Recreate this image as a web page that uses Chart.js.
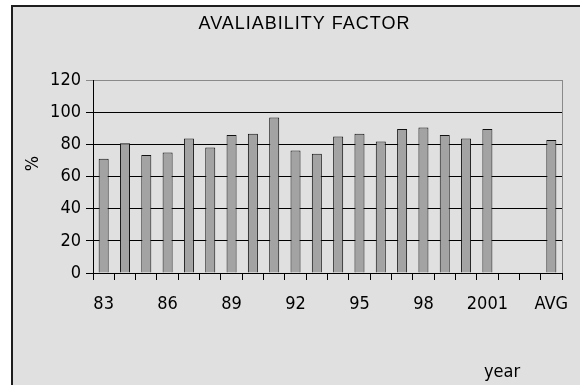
<!DOCTYPE html>
<html><head><meta charset="utf-8">
<script src="https://cdn.jsdelivr.net/npm/chart.js@4/dist/chart.umd.min.js"></script>
<style>
html,body{margin:0;padding:0;background:#fff;width:580px;height:385px;overflow:hidden}
#frame{position:absolute;left:11px;top:5px;width:567px;height:378px;border-left:2px solid #1e1e1e;border-top:2px solid #1e1e1e;background:#e0e0e0}
#frame canvas{display:block}
</style></head><body>
<div id="frame"><canvas id="c" width="567" height="378"></canvas></div>
<script>
// ---- data ----
const chartTitle = 'AVALIABILITY FACTOR';
const years = ['83','84','85','86','87','88','89','90','91','92','93','94','95','96','97','98','99','2000','2001'];
const values = [71.1,80.6,73.4,75.0,83.7,78.1,85.8,86.6,96.7,76.1,74.2,84.8,86.6,81.7,89.5,90.5,85.8,83.7,89.5];
const gapLabels = ['',''];
const avgLabel = 'AVG';
const avgValue = 82.7;
const yMin = 0, yMax = 120, yStep = 20;
const xTitle = 'year';
const yTitle = '%';

// ---- build ----
const categories = years.concat(gapLabels, [avgLabel]);
const series = values.concat(gapLabels.map(() => null), [avgValue]);

const FONT = "'DejaVu Sans Condensed','Liberation Sans',sans-serif";

const decor = {
  id: 'decor',
  afterDraw(chart) {
    const {ctx, chartArea: a} = chart;
    ctx.save();
    // right plot border
    ctx.strokeStyle = '#8a8a8a';
    ctx.lineWidth = 1;
    ctx.beginPath();
    ctx.moveTo(Math.round(a.right) + 0.5, a.top);
    ctx.lineTo(Math.round(a.right) + 0.5, a.bottom);
    ctx.stroke();
    ctx.fillStyle = '#000';
    ctx.textAlign = 'center';
    ctx.textBaseline = 'middle';
    // chart title
    ctx.font = "18px 'Liberation Sans',sans-serif";
    if ('letterSpacing' in ctx) ctx.letterSpacing = '1px';
    ctx.fillText(chartTitle, chart.width / 2 + 8, 17);
    if ('letterSpacing' in ctx) ctx.letterSpacing = '0px';
    // axis titles
    ctx.font = "18px " + FONT;
    ctx.fillText(xTitle, a.right - 60, a.bottom + 99);
    ctx.translate(a.left - 60, (a.top + a.bottom) / 2 - 13);
    ctx.rotate(-Math.PI / 2);
    ctx.fillText(yTitle, 0, 0);
    ctx.restore();
  }
};

new Chart(document.getElementById('c'), {
  type: 'bar',
  data: {
    labels: categories,
    datasets: [{
      data: series,
      backgroundColor: '#a3a3a3',
      borderColor: '#111',
      borderWidth: 1,
      barPercentage: 0.47,
      categoryPercentage: 1
    }]
  },
  options: {
    responsive: false,
    animation: false,
    devicePixelRatio: 1,
    layout: {padding: {left: 0, right: 18, top: 73, bottom: 0}},
    plugins: {
      legend: {display: false},
      tooltip: {enabled: false},
      title: {display: false}
    },
    scales: {
      x: {
        grid: {display: true, drawOnChartArea: false, drawTicks: true, tickLength: 7, color: '#000', offset: true},
        border: {display: true, color: '#000', width: 1},
        ticks: {
          autoSkip: false, maxRotation: 0, minRotation: 0, padding: 14, color: '#000',
          font: {family: FONT, size: 18},
          callback: function(v, i) { return i % 3 === 0 ? this.getLabelForValue(v) : ''; }
        },
        afterFit(s) { s.height = 112; s.paddingLeft = 0; s.paddingRight = 0; }
      },
      y: {
        min: yMin, max: yMax,
        grid: {color: (c) => c.tick && c.tick.value === yMax ? '#8a8a8a' : '#000', tickLength: 7, drawTicks: true},
        border: {display: true, color: '#000', width: 1},
        ticks: {stepSize: yStep, padding: 5, color: '#000', font: {family: FONT, size: 18}},
        afterFit(s) { s.width = 80; }
      }
    }
  },
  plugins: [decor]
});
</script>
</body></html>
